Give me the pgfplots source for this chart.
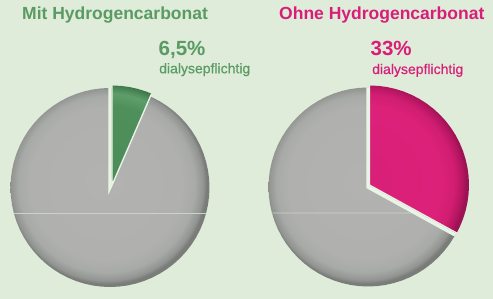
\documentclass[border=0pt]{standalone}
\usepackage{pgfplots}
\pgfplotsset{compat=1.18}
\usepgfplotslibrary{polar}
\usepackage{fontspec}
\setmainfont{Liberation Sans}
\newfontfamily\medfont{Liberation Sans}[FakeBold=0.5]
\definecolor{bg}{HTML}{E0ECDA}
\definecolor{gap}{HTML}{EAF4E6}
\definecolor{tgreen}{HTML}{5A9A63}
\definecolor{tmag}{HTML}{D81E78}
\definecolor{gA}{HTML}{B2B3B1}
\definecolor{gB}{HTML}{B0B1AF}
\definecolor{gC}{HTML}{A8AAA8}
\definecolor{gD}{HTML}{929492}
\definecolor{gE}{HTML}{7A7C7A}
\definecolor{grA}{HTML}{4C8C59}
\definecolor{grB}{HTML}{4F8F5C}
\definecolor{grC}{HTML}{5E9E6A}
\definecolor{grD}{HTML}{417C4D}
\definecolor{grE}{HTML}{356B40}
\definecolor{mA}{HTML}{D81F77}
\definecolor{mB}{HTML}{DC2179}
\definecolor{mC}{HTML}{D01D72}
\definecolor{mD}{HTML}{B4155F}
\definecolor{mE}{HTML}{9C1254}
\definecolor{faint}{HTML}{C8D5C4}
\pgfdeclareradialshading{pieshade}{\pgfpoint{-1.5bp}{1.5bp}}{color(0bp)=(gA); color(19bp)=(gB); color(22.2bp)=(gC); color(24.2bp)=(gD); color(25bp)=(gE); color(50bp)=(gE)}
\pgfdeclareradialshading{greenshade}{\pgfpoint{-1.5bp}{1.5bp}}{color(0bp)=(grA); color(19bp)=(grB); color(22.2bp)=(grC); color(24.2bp)=(grD); color(25bp)=(grE); color(50bp)=(grE)}
\pgfdeclareradialshading{magshade}{\pgfpoint{-1.5bp}{1.5bp}}{color(0bp)=(mA); color(19bp)=(mB); color(22.2bp)=(mC); color(24.2bp)=(mD); color(25bp)=(mE); color(50bp)=(mE)}
\begin{document}
\begin{tikzpicture}
\begin{axis}[
  scale only axis, width=493pt, height=299pt,
  xmin=0, xmax=493, ymin=0, ymax=299,
  axis line style={draw=none}, ticks=none,
  axis background/.style={fill=bg},
  clip=false,
]
\node[anchor=base west, inner sep=0, text=tgreen, font=\fontsize{17.5}{20}\selectfont\bfseries] at (axis cs:22,279) {Mit Hydrogencarbonat};
\node[anchor=base west, inner sep=0, text=tgreen, font=\fontsize{20.5}{24}\selectfont\bfseries] at (axis cs:158.5,243.3) {6,5\%};
\node[anchor=base west, inner sep=0, text=tgreen, font=\fontsize{14}{16}\selectfont\medfont] at (axis cs:159,225.7) {dialysepflichtig};
\node[anchor=base west, inner sep=0, text=tmag, font=\fontsize{17.5}{20}\selectfont\bfseries] at (axis cs:279,279) {Ohne Hydrogencarbonat};
\node[anchor=base west, inner sep=0, text=tmag, font=\fontsize{20.5}{24}\selectfont\bfseries] at (axis cs:370.5,243) {33\%};
\node[anchor=base west, inner sep=0, text=tmag, font=\fontsize{14}{16}\selectfont\medfont] at (axis cs:372,225) {dialysepflichtig};
\end{axis}

% left pie: 6,5 % dialysepflichtig (rest 93,5 %)
\begin{polaraxis}[
  at={(110pt,111.5pt)}, anchor=center,
  scale only axis, width=199pt, height=199pt,
  ymin=0, ymax=1, hide axis, clip=false,
]
\addplot[shade, shading=pieshade, draw=none] coordinates {
(0,1) (5,1) (10,1) (15,1) (20,1) (25,1) (30,1) (35,1) (40,1) (45,1) (50,1) (55,1) (60,1) (65,1) (70,1) (75,1) (80,1) (85,1)
(90,1) (95,1) (100,1) (105,1) (110,1) (115,1) (120,1) (125,1) (130,1) (135,1) (140,1) (145,1) (150,1) (155,1) (160,1) (165,1) (170,1) (175,1)
(180,1) (185,1) (190,1) (195,1) (200,1) (205,1) (210,1) (215,1) (220,1) (225,1) (230,1) (235,1) (240,1) (245,1) (250,1) (255,1) (260,1) (265,1)
(270,1) (275,1) (280,1) (285,1) (290,1) (295,1) (300,1) (305,1) (310,1) (315,1) (320,1) (325,1) (330,1) (335,1) (340,1) (345,1) (350,1) (355,1)
} -- cycle;
\addplot[faint, line width=0.6pt] coordinates {(-164.85,1) (-15.15,1)};
\addplot[gap, line width=3pt] coordinates {(90,1) (0,0) (66.6,1)};
\addplot[xshift=2pt, yshift=2.5pt, shade, shading=greenshade, draw=none, unbounded coords=jump] coordinates {
(180,1) (nan,nan) (270,1) (nan,nan) (0,1) (nan,nan)
(0,0) (90,1) (85,1) (80,1) (75,1) (70,1) (66.6,1)
} -- cycle;
\addplot[xshift=2pt, yshift=2.5pt, gap, line width=1.2pt] coordinates {(90,1) (0,0) (66.6,1)};
\end{polaraxis}

% right pie: 33 % dialysepflichtig (rest 67 %)
\begin{polaraxis}[
  at={(368pt,112pt)}, anchor=center,
  scale only axis, width=199pt, height=199pt,
  ymin=0, ymax=1, hide axis, clip=false,
]
\addplot[shade, shading=pieshade, draw=none] coordinates {
(0,1) (5,1) (10,1) (15,1) (20,1) (25,1) (30,1) (35,1) (40,1) (45,1) (50,1) (55,1) (60,1) (65,1) (70,1) (75,1) (80,1) (85,1)
(90,1) (95,1) (100,1) (105,1) (110,1) (115,1) (120,1) (125,1) (130,1) (135,1) (140,1) (145,1) (150,1) (155,1) (160,1) (165,1) (170,1) (175,1)
(180,1) (185,1) (190,1) (195,1) (200,1) (205,1) (210,1) (215,1) (220,1) (225,1) (230,1) (235,1) (240,1) (245,1) (250,1) (255,1) (260,1) (265,1)
(270,1) (275,1) (280,1) (285,1) (290,1) (295,1) (300,1) (305,1) (310,1) (315,1) (320,1) (325,1) (330,1) (335,1) (340,1) (345,1) (350,1) (355,1)
} -- cycle;
\addplot[faint, line width=0.6pt] coordinates {(-164.85,1) (-28.8,0.5425)};
\addplot[gap, line width=3.5pt] coordinates {(90,1) (0,0) (-28.8,1)};
\addplot[xshift=1.5pt, yshift=2pt, shade, shading=magshade, draw=none, unbounded coords=jump] coordinates {
(180,1) (nan,nan) (270,1) (nan,nan)
(0,0) (90,1) (85,1) (80,1) (75,1) (70,1) (65,1) (60,1) (55,1) (50,1) (45,1) (40,1) (35,1) (30,1) (25,1) (20,1) (15,1) (10,1) (5,1) (0,1)
(-5,1) (-10,1) (-15,1) (-20,1) (-25,1) (-28.8,1)
} -- cycle;
\addplot[xshift=1.5pt, yshift=2pt, gap, line width=1.2pt] coordinates {(90,1) (0,0) (-28.8,1)};
\end{polaraxis}
\end{tikzpicture}
\end{document}
